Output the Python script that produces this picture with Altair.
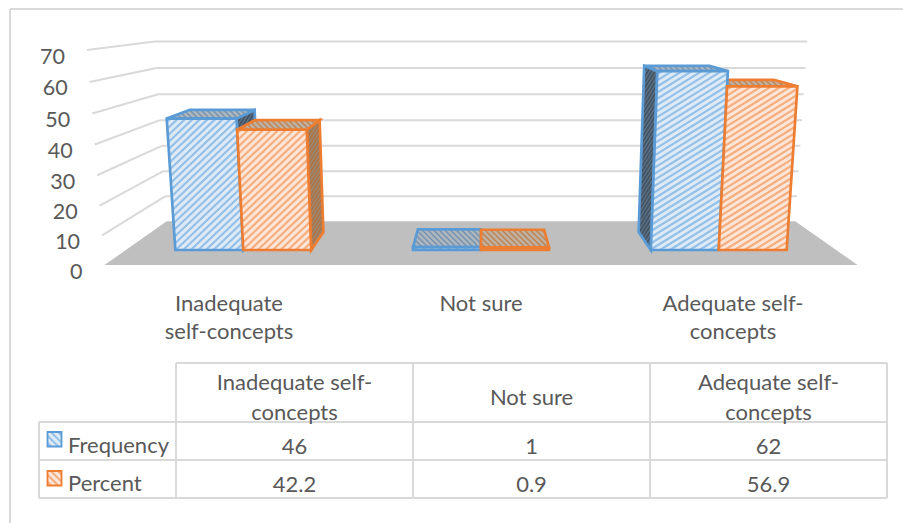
import altair as alt
import pandas as pd

# Survey results
categories = ["Inadequate self-concepts", "Not sure", "Adequate self-concepts"]
frequency = [46, 1, 62]
percent = [42.2, 0.9, 56.9]
value_ticks = [0, 10, 20, 30, 40, 50, 60, 70]
axis_lines = [["Inadequate", "self-concepts"], ["Not sure"], ["Adequate self-", "concepts"]]
header_lines = [["Inadequate self-", "concepts"], ["Not sure"], ["Adequate self-", "concepts"]]
freq_cells = ["46", "1", "62"]
pct_cells = ["42.2", "0.9", "56.9"]

W, H = 903, 523
FONT = "Lato"
TEXT = "#595959"
GRID = "#d9d9d9"
BLUE = "#5b9bd5"
ORANGE = "#ed7d31"

# Perspective camera for the 3-D box
CX = 481.0
FLOOR_Y = 265.0
UNIT_Y = 3.103
Z_PERSP = 0.198
V_PERSP = -0.000632
HALF_FLOOR = 376.5
CAT_STEP = 252.0
BAR_W = 72.0
Z_FRONT, Z_BACK = 0.303, 0.717


def project(X, V, Z):
    w = 1 + Z_PERSP * Z + V_PERSP * V
    return CX + X / w, (FLOOR_Y - UNIT_Y * V) / w


def clip_segment(p0, d, poly):
    # Clip the infinite line p0 + t*d against a convex polygon
    t0, t1 = -1e9, 1e9
    n = len(poly)
    area = sum(poly[i][0] * poly[(i + 1) % n][1] - poly[(i + 1) % n][0] * poly[i][1] for i in range(n))
    sign = 1 if area > 0 else -1
    for i in range(n):
        ax, ay = poly[i]
        bx, by = poly[(i + 1) % n]
        ex, ey = bx - ax, by - ay
        nx, ny = -ey * sign, ex * sign  # inward normal
        denom = nx * d[0] + ny * d[1]
        num = nx * (p0[0] - ax) + ny * (p0[1] - ay)
        if abs(denom) < 1e-9:
            if num < 0:
                return None
            continue
        t = -num / denom
        if denom > 0:
            t0 = max(t0, t)
        else:
            t1 = min(t1, t)
    if t0 >= t1:
        return None
    return (p0[0] + t0 * d[0], p0[1] + t0 * d[1], p0[0] + t1 * d[0], p0[1] + t1 * d[1])


def hatch_rows(poly, dx, dy, gap):
    # Parallel stripes of direction (dx, dy), `gap` pixels apart, inside a face
    length = (dx * dx + dy * dy) ** 0.5
    ux, uy = dx / length, dy / length
    nx, ny = -uy, ux
    offs = [px * nx + py * ny for px, py in poly]
    rows = []
    o = min(offs) + gap / 2
    while o < max(offs):
        seg = clip_segment((nx * o, ny * o), (ux, uy), poly)
        if seg:
            rows.append(dict(x=seg[0], y=seg[1], x2=seg[2], y2=seg[3]))
        o += gap
    return rows


xs = alt.Scale(domain=[0, W], range=[0, W])
ys = alt.Scale(domain=[0, H], range=[0, H])
X_ENC = alt.X("x:Q", scale=xs, axis=None)
Y_ENC = alt.Y("y:Q", scale=ys, axis=None)

layers = []


def polygon(poly, fill=None, stroke=None, width=0.0):
    df = pd.DataFrame([dict(x=p[0], y=p[1], i=i) for i, p in enumerate(poly)])
    kw = dict(interpolate="linear-closed", clip=False)
    kw["fill"] = fill if fill else "transparent"
    kw["stroke"] = stroke if stroke else "transparent"
    kw["strokeWidth"] = width
    kw["strokeJoin"] = "miter"
    layers.append(alt.Chart(df).mark_line(**kw).encode(x=X_ENC, y=Y_ENC, order="i:O"))


def segments(rows, color, width, opacity=1.0):
    if not rows:
        return
    layers.append(
        alt.Chart(pd.DataFrame(rows))
        .mark_rule(color=color, strokeWidth=width, opacity=opacity)
        .encode(x=X_ENC, y=Y_ENC, x2="x2:Q", y2="y2:Q")
    )


def text(rows, size=21.5, align="center", color=TEXT):
    layers.append(
        alt.Chart(pd.DataFrame(rows))
        .mark_text(font=FONT, fontSize=size, align=align, baseline="middle", color=color)
        .encode(x=X_ENC, y=Y_ENC, text="t:N")
    )


def hatched_face(poly, base, stripe, edge, slope, gap, sw, ew=2.7):
    polygon(poly, fill=base)
    segments(hatch_rows(poly, *slope, gap), stripe, sw)
    polygon(poly, stroke=edge, width=ew)


# Outer frame of the chart
segments(
    [
        dict(x=10, y=9, x2=903, y2=9),
        dict(x=10, y=9, x2=10, y2=523),
    ],
    GRID,
    2,
)

# Floor of the 3-D box
polygon(
    [
        project(-HALF_FLOOR, 0, 0),
        project(HALF_FLOOR, 0, 0),
        project(HALF_FLOOR, 0, 1),
        project(-HALF_FLOOR, 0, 1),
    ],
    fill="#bfbfbf",
)

# Gridlines along the left wall and the back wall
grid_rows = []
for v in value_ticks[1:]:
    fx, fy = project(-HALF_FLOOR, v, 0)
    bx, by = project(-HALF_FLOOR, v, 1)
    rx, ry = project(HALF_FLOOR, v, 1)
    grid_rows.append(dict(x=fx, y=fy, x2=bx, y2=by))
    grid_rows.append(dict(x=bx, y=by, x2=rx, y2=ry))
segments(grid_rows, GRID, 2)

# Value axis labels follow the front edge of the left wall
tick_rows = []
for v in value_ticks:
    fx, fy = project(-HALF_FLOOR, v, 0)
    tick_rows.append(dict(x=fx - 22, y=fy + 7.5, t=str(v)))
text(tick_rows, size=21.5, align="right")

BLUE_STYLE = dict(vals=frequency, lo=-1, front="#deebf7", stripe="#95c0e8", edge=BLUE,
                  top="#aeb6be", top_s="#7592ae", side="#46535f", side_s="#5a7690")
ORANGE_STYLE = dict(vals=percent, lo=0, front="#fde6d8", stripe="#f5ae80", edge=ORANGE,
                    top="#bfb0a2", top_s="#bd8453", side="#9a8570", side_s="#b5703a")
# Stripe direction per group: steeper on the left, flatter on the right
FRONT_SLOPE = [(1.0, -0.95), (1.0, -0.8), (1.0, -0.62)]


def bar_box(ci, s):
    centre = (ci - 1) * CAT_STEP
    x0 = centre + s["lo"] * BAR_W
    return x0, x0 + BAR_W, s["vals"][ci]


def draw_side(ci, s):
    x0, x1, v = bar_box(ci, s)
    sx = x1 if ci == 0 else x0
    side = [project(sx, 0, Z_FRONT), project(sx, v, Z_FRONT), project(sx, v, Z_BACK), project(sx, 0, Z_BACK)]
    hatched_face(side, s["side"], s["side_s"], s["edge"], (1.0, -1.6), 3.0, 1.2)


def draw_top(ci, s):
    x0, x1, v = bar_box(ci, s)
    top = [project(x0, v, Z_FRONT), project(x1, v, Z_FRONT), project(x1, v, Z_BACK), project(x0, v, Z_BACK)]
    hatched_face(top, s["top"], s["top_s"], s["edge"], (1.0, 1.0), 4.0, 1.4)


def draw_front(ci, s):
    x0, x1, v = bar_box(ci, s)
    front = [project(x0, 0, Z_FRONT), project(x1, 0, Z_FRONT), project(x1, v, Z_FRONT), project(x0, v, Z_FRONT)]
    hatched_face(front, s["front"], s["stripe"], s["edge"], FRONT_SLOPE[ci], 5.2, 2.2)


# Left group: the bars' right sides face the camera
draw_side(0, BLUE_STYLE)
draw_top(0, BLUE_STYLE)
draw_front(0, BLUE_STYLE)
draw_side(0, ORANGE_STYLE)
draw_top(0, ORANGE_STYLE)
draw_front(0, ORANGE_STYLE)

# Middle group: bars are almost flat, only tops and fronts show
for st in (BLUE_STYLE, ORANGE_STYLE):
    draw_top(1, st)
    draw_front(1, st)

# Right group: the left side of the outer bar faces the camera
draw_top(2, ORANGE_STYLE)
draw_side(2, BLUE_STYLE)
draw_top(2, BLUE_STYLE)
draw_front(2, BLUE_STYLE)
draw_front(2, ORANGE_STYLE)

# Category labels under the floor
cat_rows = []
for ci, lines in enumerate(axis_lines):
    cx = [229, 481, 733][ci]
    for li, line in enumerate(lines):
        cat_rows.append(dict(x=cx, y=304 + 28 * li, t=line))
text(cat_rows, size=22)

# Data table
TX = [176, 413, 650, 887]
TY = [363, 422, 460, 498]
LEFT = 39
table = [
    dict(x=TX[0], y=TY[0], x2=TX[3], y2=TY[0]),
    dict(x=LEFT, y=TY[1], x2=TX[3], y2=TY[1]),
    dict(x=LEFT, y=TY[2], x2=TX[3], y2=TY[2]),
    dict(x=LEFT, y=TY[3], x2=TX[3], y2=TY[3]),
    dict(x=LEFT, y=TY[1], x2=LEFT, y2=TY[3]),
]
for tx in TX:
    table.append(dict(x=tx, y=TY[0], x2=tx, y2=TY[3]))
segments(table, GRID, 2)

cell_rows = []
for ci in range(3):
    cx = (TX[ci] + TX[ci + 1]) / 2
    lines = header_lines[ci]
    if len(lines) == 2:
        cell_rows.append(dict(x=cx, y=383, t=lines[0]))
        cell_rows.append(dict(x=cx, y=413, t=lines[1]))
    else:
        cell_rows.append(dict(x=cx, y=398, t=lines[0]))
    cell_rows.append(dict(x=cx, y=447, t=freq_cells[ci]))
    cell_rows.append(dict(x=cx, y=485, t=pct_cells[ci]))
text(cell_rows, size=22)
text([dict(x=68, y=446, t="Frequency"), dict(x=68, y=484, t="Percent")], size=22, align="left")

# Legend keys inside the table
for key_y, s in zip([432, 471], (BLUE_STYLE, ORANGE_STYLE)):
    key = [(47.5, key_y), (61.5, key_y), (61.5, key_y + 14.5), (47.5, key_y + 14.5)]
    hatched_face(key, s["front"], s["stripe"], s["edge"], (1.0, 1.0), 5.0, 2.0, ew=1.8)

chart = (
    alt.layer(*layers)
    .properties(width=W, height=H, padding=0, background="white", autosize=alt.AutoSizeParams(type="none"))
    .configure_view(stroke=None)
)
chart.save("out.html", embed_options={"renderer": "svg", "actions": False})
